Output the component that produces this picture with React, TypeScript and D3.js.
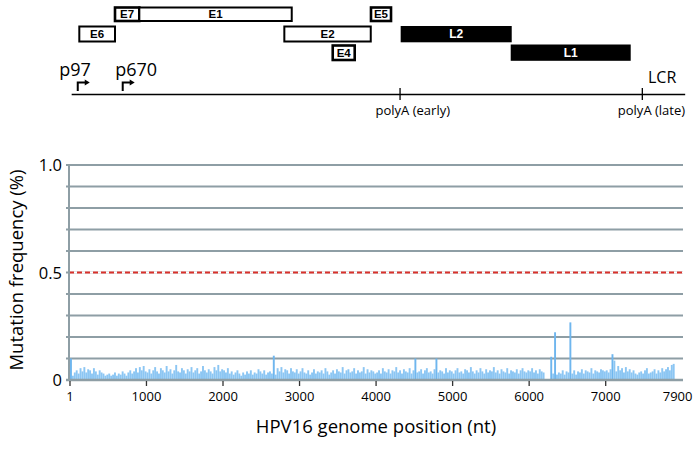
import React from "react";
import * as d3 from "d3";

// ---------- Data ----------
// Mutation frequency (in thousandths of a percent), one value every 25 nt, per 1000-nt block
const block1k = [100, 20, 35, 45, 30, 55, 40, 60, 35, 50, 45, 30, 55, 40, 25, 45, 35, 30, 20, 25, 30, 20, 25, 35, 20, 30, 25, 40, 30, 20, 35, 45, 30, 40, 55, 35, 60, 45, 65, 40];
const block2k = [35, 50, 30, 45, 60, 40, 30, 55, 45, 35, 65, 40, 50, 30, 45, 70, 40, 35, 55, 45, 30, 50, 40, 60, 35, 45, 55, 30, 40, 65, 45, 35, 50, 40, 30, 60, 45, 70, 40, 50];
const block3k = [45, 35, 55, 30, 40, 25, 35, 45, 30, 20, 35, 25, 40, 30, 45, 25, 35, 30, 50, 40, 30, 45, 25, 35, 40, 30, 113, 25, 55, 40, 60, 35, 50, 45, 30, 55, 40, 35, 50, 30];
const block4k = [40, 55, 35, 30, 45, 25, 35, 50, 30, 40, 35, 45, 30, 55, 40, 25, 35, 45, 30, 50, 40, 35, 60, 30, 45, 50, 35, 40, 55, 30, 45, 35, 40, 60, 30, 50, 35, 45, 40, 30];
const block5k = [35, 45, 30, 55, 40, 35, 50, 30, 45, 40, 60, 35, 45, 30, 50, 40, 35, 55, 30, 45, 100, 35, 40, 50, 30, 45, 55, 35, 40, 30, 50, 100, 35, 45, 40, 30, 55, 35, 45, 40];
const block6k = [30, 45, 55, 35, 40, 30, 50, 45, 35, 60, 40, 30, 45, 35, 55, 40, 30, 50, 35, 45, 40, 60, 35, 45, 30, 50, 40, 35, 55, 30, 45, 40, 35, 50, 30, 45, 55, 40, 35, 45];
const block7k = [40, 55, 35, 45, 30, 50, 40, 35, 0, 0, 0, 108, 30, 222, 25, 35, 30, 45, 25, 40, 35, 268, 30, 45, 25, 40, 35, 50, 30, 45, 40, 35, 55, 30, 45, 40, 35, 50, 45, 40];
const block8k = [45, 35, 50, 120, 90, 40, 65, 45, 55, 35, 60, 40, 50, 35, 45, 30, 25, 35, 40, 30, 45, 55, 30, 35, 40, 50, 30, 45, 35, 55, 40, 50, 60, 45, 70, 75];
const binSize = 25;

const xTicks = [1, 1000, 2000, 3000, 4000, 5000, 6000, 7000];
const xEndLabel = 7900;
const yGrid = [0, 0.1, 0.2, 0.3, 0.4, 0.5, 0.6, 0.7, 0.8, 0.9, 1.0];
const yLabels = [0, 0.5, 1.0];
const threshold = 0.5;

// Gene map (schematic positions, nt)
const earlyGenes = [
  { name: "E7", start: 540, end: 852, row: 0, small: true },
  { name: "E1", start: 852, end: 2808, row: 0, small: false },
  { name: "E5", start: 3825, end: 4082, row: 0, small: true },
  { name: "E6", start: 82, end: 540, row: 1, small: false },
  { name: "E2", start: 2713, end: 3822, row: 1, small: false },
  { name: "E4", start: 3334, end: 3616, row: 2, small: true },
];
const lateGenes = [
  { name: "L2", start: 4206, end: 5631, row: 1 },
  { name: "L1", start: 5618, end: 7158, row: 2 },
];
const promoters = [
  { name: "p97", pos: 62 },
  { name: "p670", pos: 639 },
];
const polyA = [
  { name: "polyA (early)", pos: 4198 },
  { name: "polyA (late)", pos: 7307 },
];
const mapExtent = [-16, 7857];

// ---------- Layout ----------
const W = 699, H = 459;
const plotTop = 165, plotBottom = 380, plotLeft = 69, plotRight = 683;
const FONT = "'Open Sans', 'Noto Sans', sans-serif";
const BOLD = "'Liberation Sans', Arial, sans-serif";

export default function App() {
  const blocks = [block1k, block2k, block3k, block4k, block5k, block6k, block7k, block8k];
  const freq = blocks.flatMap((b, bi) => b.map((v, i) => ({ pos: 1 + bi * 1000 + i * binSize, val: v / 1000 })));

  const x = d3.scaleLinear().domain([1, 8010]).range([70, plotRight]);
  const y = d3.scaleLinear().domain([0, 1]).range([plotBottom, plotTop]);
  const mx = d3.scaleLinear().domain([1, 7906]).range([73, 689]);

  const rowY = [7.5, 26.5, 45.5];
  const lateRowY = [0, 26, 44.5];
  const lateH = 16.3;
  const baseY = 94.5;

  const bw = x(1 + binSize) - x(1);

  return (
    <svg width={W} height={H} style={{ position: "absolute", left: 0, top: 0, background: "#fff" }}>
      {/* Gene map */}
      {earlyGenes.map((g) => {
        const x0 = mx(g.start), x1 = mx(g.end);
        const yy = rowY[g.row];
        const hh = g.row === 2 ? 14.5 : g.row === 0 ? 13.5 : 15;
        return (
          <g key={g.name}>
            <rect x={x0} y={yy} width={x1 - x0} height={hh} fill="#fff" stroke="#000" strokeWidth={g.small ? 2.6 : 2} />
            <text x={(x0 + x1) / 2} y={yy + hh / 2 + 4} textAnchor="middle" fontFamily={BOLD} fontWeight="bold" fontSize={11.5} fill="#000">{g.name}</text>
          </g>
        );
      })}
      {lateGenes.map((g) => {
        const x0 = mx(g.start), x1 = mx(g.end);
        const yy = lateRowY[g.row];
        return (
          <g key={g.name}>
            <rect x={x0} y={yy} width={x1 - x0} height={lateH} fill="#000" />
            <text x={(x0 + x1) / 2} y={yy + lateH / 2 + 4.2} textAnchor="middle" fontFamily={BOLD} fontWeight="bold" fontSize={12} fill="#fff">{g.name}</text>
          </g>
        );
      })}
      <line x1={mx(mapExtent[0])} x2={mx(mapExtent[1])} y1={baseY} y2={baseY} stroke="#000" strokeWidth={1.6} />
      {promoters.map((p) => {
        const px = mx(p.pos);
        return (
          <g key={p.name}>
            <text x={px - (p.name === "p97" ? 18.5 : 7.5)} y={76} fontFamily={FONT} fontSize={18} fill="#000">{p.name}</text>
            <path d={`M${px},91 V82.5 H${px + 8}`} fill="none" stroke="#000" strokeWidth={2} />
            <path d={`M${px + 7},79.5 L${px + 12},82.5 L${px + 7},85.5 Z`} fill="#000" />
          </g>
        );
      })}
      {polyA.map((p) => {
        const px = mx(p.pos);
        return (
          <g key={p.name}>
            <line x1={px} x2={px} y1={88} y2={100} stroke="#000" strokeWidth={1.3} />
            <text x={px - 24.5} y={115} fontFamily={FONT} fontSize={13} fill="#000">{p.name}</text>
          </g>
        );
      })}
      <text x={648} y={83} fontFamily={FONT} fontSize={16} fill="#000">LCR</text>

      {/* Grid */}
      {yGrid.filter((v) => v > 0).map((v) => (
        <line key={v} x1={plotLeft - 3} x2={plotRight} y1={y(v)} y2={y(v)} stroke="#8e9ea5" strokeWidth={2} />
      ))}
      <line x1={plotLeft} x2={plotRight} y1={y(threshold)} y2={y(threshold)} stroke="#ffffff" strokeWidth={2.2} />
      <line x1={plotLeft} x2={plotRight} y1={y(threshold)} y2={y(threshold)} stroke="#d8312b" strokeWidth={2} strokeDasharray="5 3" />
      <line x1={plotLeft} x2={plotLeft} y1={plotTop} y2={plotBottom} stroke="#8e9ea5" strokeWidth={2} />

      {/* Bars */}
      {freq.map((d, i) => (
        <rect key={i} x={x(d.pos)} y={y(d.val)} width={bw} height={plotBottom - y(d.val)} fill={d.val > 0.09 ? "#6fb6ee" : "#8cc6f3"} />
      ))}

      {/* X axis */}
      <line x1={plotLeft - 3} x2={plotRight} y1={plotBottom} y2={plotBottom} stroke="#8e9ea5" strokeWidth={2.5} />
      {xTicks.map((t) => (
        <g key={t}>
          <line x1={x(t)} x2={x(t)} y1={plotBottom + 1} y2={plotBottom + 6} stroke="#333" strokeWidth={1.3} />
          <text x={x(t)} y={401} textAnchor="middle" fontFamily={FONT} fontSize={13} fill="#000">{t}</text>
        </g>
      ))}
      <text x={x(xEndLabel) + 3} y={401} textAnchor="middle" fontFamily={FONT} fontSize={13} fill="#000">{xEndLabel}</text>

      {/* Y labels */}
      {yLabels.map((v) => (
        <text key={v} x={62} y={y(v) + 6} textAnchor="end" fontFamily={FONT} fontSize={16.5} fill="#000">{v === 0 ? "0" : v.toFixed(1)}</text>
      ))}
      <text transform={`translate(23,270) rotate(-90)`} textAnchor="middle" fontFamily={FONT} fontSize={18.5} fill="#000">Mutation frequency (%)</text>
      <text x={376} y={433} textAnchor="middle" fontFamily={FONT} fontSize={18.5} fill="#000">HPV16 genome position (nt)</text>
    </svg>
  );
}
